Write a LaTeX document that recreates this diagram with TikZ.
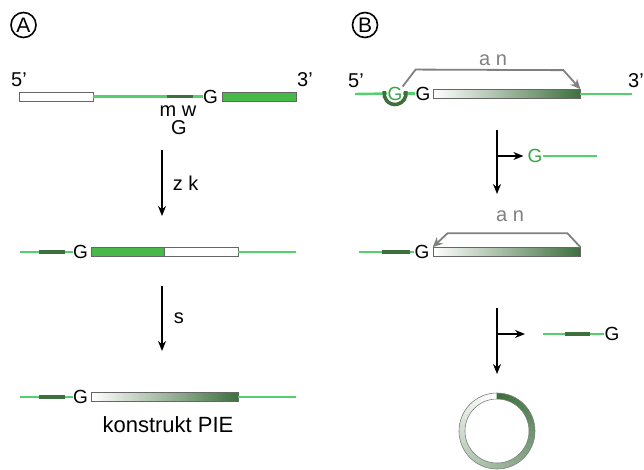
\documentclass[tikz,border=0pt]{standalone}
\usepackage{fontspec}
\setmainfont{Liberation Sans}
\usetikzlibrary{positioning,arrows.meta,calc}
\definecolor{lgreen}{RGB}{85,208,110}
\definecolor{mgreen}{RGB}{70,185,70}
\definecolor{dgreen}{RGB}{62,112,62}
\definecolor{ggreen}{RGB}{55,165,70}
\definecolor{anline}{RGB}{128,128,128}

\begin{document}
\begin{tikzpicture}[
    x=1pt, y=-1pt, >=Stealth,
    strand/.style={lgreen, line width=2.4pt},
    tag/.style={dgreen, line width=3.6pt},
    bar/.style={draw=gray!80!black, line width=0.7pt, inner sep=0pt,
      minimum height=9pt},
    nt/.style={font=\fontsize{19}{19}\selectfont, inner sep=0pt},
    lbl/.style={font=\fontsize{20}{20}\selectfont, inner sep=0pt},
    panel/.style={draw, circle, line width=1.6pt, minimum size=25pt,
      inner sep=0pt, font=\fontsize{21}{21}\selectfont},
    flow/.style={line width=1.5pt, -{Stealth[length=10pt,width=8pt]}},
    an/.style={anline, line width=1.8pt, -{Stealth[length=10pt,width=9pt]}},
    grad/.style={bar, left color=white, right color=dgreen}]
  \useasboundingbox (0,0) rectangle (644,470);

  % A
  \node[panel] (pa) at (23.5,25) {A};
  \node[lbl] (a5) at (19,80) {5’};
  \node[lbl] (a3) at (305,80) {3’};
  \node[bar, fill=white, minimum width=74pt] (aw1) at (56,96.5) {};
  \node[nt] (ag1) at (210.5,96.5) {G};
  \node[bar, fill=mgreen, minimum width=74pt] (am1) at (259,96.5) {};
  \draw[strand] (aw1.east) -- (ag1.west);
  \draw[tag] (167,96.5) -- (193,96.5);
  \node[lbl] (amw) at (178,111) {m w};
  \node[lbl] (amg) at (179,128) {G};

  \coordinate (ar1s) at (162,150);
  \coordinate (ar1e) at (162,216);
  \draw[flow] (ar1s) -- (ar1e) node[lbl, midway, right=10pt] {z k};

  \node[nt] (ag2) at (80.5,252) {G};
  \node[bar, fill=mgreen, minimum width=73pt] (am2) at (127.5,252) {};
  \node[bar, fill=white, minimum width=74pt] (aw2) at (201,252) {};
  \coordinate (al2) at (20,252);
  \coordinate (ar2) at (296,252);
  \draw[strand] (al2) -- (ag2.west);
  \draw[tag] (39,252) -- (65,252);
  \draw[strand] (aw2.east) -- (ar2);

  \coordinate (ar2s) at (162,286);
  \coordinate (ar2e) at (162,351);
  \draw[flow] (ar2s) -- (ar2e) node[lbl, midway, right=11pt] {s};

  \node[nt] (ag3) at (80.5,397) {G};
  \node[bar, grad, minimum width=147pt] (ap3) at (164.5,397) {};
  \coordinate (al3) at (20,397);
  \coordinate (ar3) at (296,397);
  \draw[strand] (al3) -- (ag3.west);
  \draw[tag] (39,397) -- (65,397);
  \draw[strand] (ap3.east) -- (ar3);
  \node[lbl, font=\fontsize{22}{22}\selectfont] (pie) at (168,425) {konstrukt PIE};

  % B
  \node[panel] (pb) at (365,25) {B};
  \node[lbl] (b5) at (356,81) {5’};
  \node[lbl] (b3) at (636,81) {3’};
  \node[nt, text=ggreen] (bgg) at (395,93.5) {G};
  \node[nt] (bg1) at (423,93.5) {G};
  \node[bar, grad, minimum width=147pt] (bp1) at (506.5,94) {};
  \coordinate (bl1) at (355,94);
  \coordinate (br1) at (632,94);
  \draw[strand] (bl1) -- (bgg.west);
  \draw[strand] (bgg.east) -- (bg1.west);
  \draw[strand] (bp1.east) -- (br1);
  \draw[tag] ($(bgg.center)+(-12:11)$) arc[start angle=-12, end angle=192, radius=11];
  \draw[an] (bgg.north east) -- ++(13,-17) -- ($(bp1.north east)+(-17,-19)$)
    -- (bp1.north east);
  \node[lbl, text=anline] (ban1) at (493,60) {a n};

  \coordinate (br1s) at (497,130);
  \coordinate (br1e) at (497,194);
  \coordinate (bb1) at (497,156);
  \node[nt, text=ggreen] (bgo) at (535,156) {G};
  \coordinate (bgoe) at (597,156);
  \draw[flow] (br1s) -- (br1e);
  \draw[flow] (bb1) -- ([xshift=-4pt]bgo.west);
  \draw[strand] (bgo.east) -- (bgoe);

  \node[nt] (bg2) at (422,252) {G};
  \node[bar, grad, minimum width=147pt] (bp2) at (506.5,252) {};
  \coordinate (bl2) at (359,252);
  \draw[strand] (bl2) -- (bg2.west);
  \draw[tag] (382,252) -- (410,252);
  \draw[an] (bp2.north east) -- ++(-13,-14) -- ($(bp2.north west)+(15,-14)$)
    -- (bp2.north west);
  \node[lbl, text=anline] (ban2) at (510,216) {a n};

  \coordinate (br2s) at (497,308);
  \coordinate (br2e) at (497,374);
  \coordinate (bb2) at (497,334);
  \coordinate (bcut) at (543,334);
  \node[nt] (bgc) at (612,334) {G};
  \draw[flow] (br2s) -- (br2e);
  \draw[flow] (bb2) -- ([xshift=-18pt]bcut);
  \draw[strand] (bcut) -- (bgc.west);
  \draw[tag] (565,334) -- (590,334);

  \begin{scope}[shift={(497,431)}, yscale=-1]
    \foreach \i in {0,...,35} {
      \pgfmathsetmacro\pc{100*\i/35}
      \pgfmathsetmacro\sa{90+10*\i}
      \pgfmathsetmacro\ea{100.6+10*\i}
      \fill[dgreen!\pc!white] (\sa:38) arc[start angle=\sa, end angle=\ea, radius=38]
        -- (\ea:32) arc[start angle=\ea, end angle=\sa, radius=32] -- cycle;
    }
    \draw[gray, line width=0.6pt] (0,0) circle[radius=38] (0,0) circle[radius=32];
  \end{scope}
\end{tikzpicture}
\end{document}
